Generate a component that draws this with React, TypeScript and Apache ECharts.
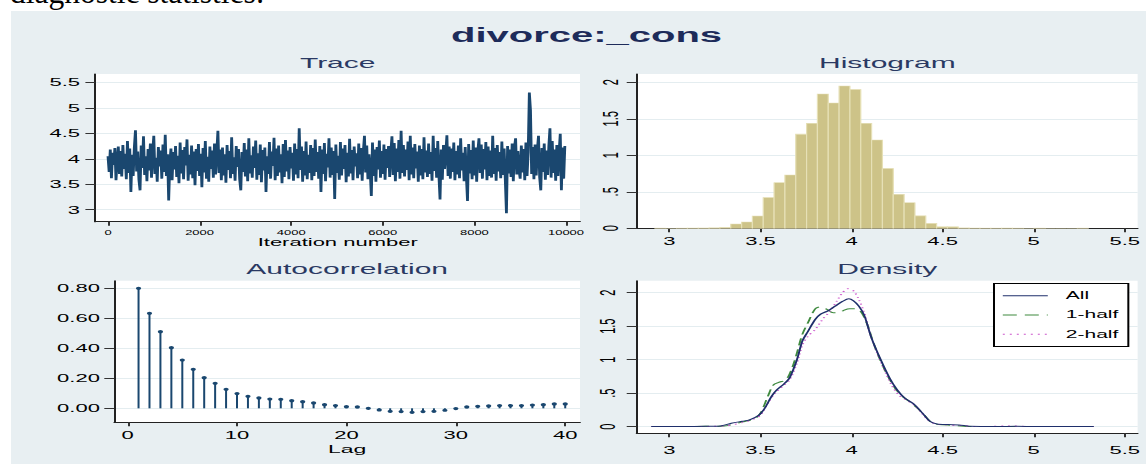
import React, { useEffect, useRef } from "react";
import * as echarts from "echarts";

// The reference picture is stretched horizontally; the chart is drawn at half width and scaled.
const SX = 2;
const PAGE_W = 1146;
const PAGE_H = 464;
const CHART_W = PAGE_W / SX;
const FONT = "'Liberation Sans', Arial, Helvetica, sans-serif";

// ---------------- texts ----------------
const pageCaption = "diagnostic statistics:";
const mainTitle = "divorce:_cons";
const panelTitles = ["Trace", "Histogram", "Autocorrelation", "Density"];
const traceXName = "Iteration number";
const acXName = "Lag";
const legendNames = ["All", "1-half", "2-half"];

// ---------------- trace ----------------
const traceStep = 25; // iterations between stored draws
const traceValues = [
  4.05, 3.74, 4.18, 3.62, 4.12, 3.88, 4.21, 3.58, 3.97, 4.24, 3.70, 4.15, 3.65, 4.27, 3.80, 4.10, 3.60, 4.35, 3.72, 4.20,
  3.35, 4.08, 3.66, 4.22, 4.56, 3.75, 4.14, 3.59, 3.38, 4.26, 3.82, 4.44, 3.68, 4.05, 3.56, 4.19, 3.77, 4.30, 3.63, 4.11,
  4.45, 3.70, 4.02, 3.55, 4.23, 3.85, 4.16, 3.61, 4.28, 3.74, 4.47, 3.66, 4.09, 3.18, 3.92, 4.20, 3.58, 4.13, 3.79, 4.25,
  3.64, 4.06, 3.52, 4.32, 3.71, 4.17, 3.60, 4.23, 3.87, 4.38, 3.57, 4.08, 3.69, 4.26, 3.62, 4.14, 3.48, 4.19, 3.76, 4.29,
  3.66, 4.10, 3.44, 4.21, 3.73, 4.35, 3.61, 4.04, 3.55, 4.24, 3.80, 4.16, 3.63, 4.30, 3.69, 4.12, 4.55, 3.72, 4.18, 3.58,
  4.22, 3.67, 4.09, 3.53, 4.27, 3.78, 4.15, 3.62, 4.42, 3.70, 4.03, 3.57, 4.25, 3.84, 4.19, 3.60, 3.38, 4.13, 3.74, 4.31,
  3.65, 4.18, 3.56, 4.40, 3.71, 4.07, 3.63, 4.24, 3.82, 4.36, 3.59, 4.11, 3.68, 4.28, 3.54, 4.17, 3.77, 4.22, 3.35, 4.05,
  3.70, 4.33, 3.61, 4.14, 3.86, 4.41, 3.58, 4.20, 3.66, 4.26, 3.73, 4.09, 3.52, 4.29, 3.64, 4.37, 3.75, 4.16, 3.60, 4.23,
  3.81, 4.12, 3.57, 4.30, 3.69, 4.19, 3.62, 4.60, 3.78, 4.24, 3.55, 4.15, 3.67, 4.34, 3.60, 4.08, 3.72, 4.27, 3.58, 4.21,
  3.66, 4.38, 3.74, 4.13, 3.61, 4.25, 3.35, 4.18, 3.70, 4.31, 3.56, 4.10, 3.83, 4.40, 3.63, 4.22, 3.68, 4.15, 3.21, 4.28,
  3.72, 4.06, 3.59, 4.33, 3.67, 4.20, 3.80, 4.27, 3.54, 4.12, 3.65, 4.39, 3.71, 4.17, 3.58, 4.24, 3.85, 4.11, 3.62, 4.30,
  3.69, 4.21, 3.57, 4.14, 4.45, 3.73, 4.26, 3.60, 4.09, 3.76, 3.27, 4.32, 3.66, 4.18, 3.55, 4.23, 3.79, 4.36, 3.63, 4.15,
  3.70, 4.28, 3.59, 4.19, 3.82, 4.25, 3.64, 4.12, 4.44, 3.68, 4.31, 3.56, 4.20, 3.74, 4.37, 3.61, 4.55, 3.72, 4.27, 3.65,
  4.18, 3.78, 4.34, 3.58, 4.45, 3.69, 4.22, 3.62, 4.29, 3.81, 4.14, 3.55, 4.26, 3.67, 4.19, 3.60, 4.42, 3.73, 4.16, 3.64,
  4.30, 3.70, 4.13, 3.57, 4.45, 3.76, 4.21, 3.63, 4.35, 3.68, 3.20, 4.18, 3.59, 4.27, 3.80, 4.11, 4.46, 3.66, 4.24, 3.61,
  4.20, 3.74, 4.32, 3.58, 4.15, 3.69, 4.26, 3.62, 4.40, 3.77, 4.12, 3.56, 4.23, 3.65, 3.17, 4.29, 3.71, 4.17, 3.60, 4.36,
  3.67, 4.22, 3.55, 4.14, 4.40, 3.72, 4.28, 3.61, 4.19, 3.79, 4.33, 3.58, 4.24, 3.66, 4.16, 3.63, 4.45, 3.70, 4.21, 3.57,
  4.27, 3.75, 4.13, 3.62, 4.34, 3.68, 4.20, 3.59, 2.93, 4.25, 3.71, 4.18, 3.64, 4.30, 3.56, 4.22, 4.40, 3.69, 4.15, 3.78,
  3.61, 4.26, 3.73, 4.19, 3.58, 4.32, 3.66, 4.14, 5.30, 4.95, 3.70, 4.23, 3.60, 4.28, 3.67, 4.17, 4.45, 3.64, 3.38, 4.21,
  3.74, 4.30, 3.59, 4.16, 3.68, 4.24, 4.60, 3.63, 4.35, 3.72, 4.18, 3.57, 4.27, 3.66, 4.13, 4.49, 3.38, 4.22, 3.61, 4.25,
];
const traceXTicks = [0, 2000, 4000, 6000, 8000, 10000];
const traceXLabels = ["0", "2000", "4000", "6000", "8000", "10000"];
const traceYTicks = [3, 3.5, 4, 4.5, 5, 5.5];
const traceYLabels = ["3", "3.5", "4", "4.5", "5", "5.5"];

// ---------------- histogram ----------------
const histStart = 2.92;
const histBinWidth = 0.0595;
const histHeights = [
  0.002, 0, 0.002, 0.003, 0.004, 0.006, 0.012, 0.059, 0.086, 0.168,
  0.42, 0.625, 0.73, 1.29, 1.44, 1.84, 1.716, 1.95, 1.9, 1.44,
  1.21, 0.82, 0.466, 0.35, 0.17, 0.068, 0.02, 0.02, 0.005, 0.003,
  0.002, 0.002, 0.003, 0.002, 0, 0.002, 0, 0, 0, 0.002,
];
const histXTicks = [3, 3.5, 4, 4.5, 5, 5.5];
const histXLabels = ["3", "3.5", "4", "4.5", "5", "5.5"];
const histYTicks = [0, 0.5, 1, 1.5, 2];
const histYLabels = ["0", ".5", "1", "1.5", "2"];

// ---------------- autocorrelation ----------------
const acLags = [
  1, 2, 3, 4, 5, 6, 7, 8, 9, 10, 11, 12, 13, 14, 15, 16, 17, 18, 19, 20,
  21, 22, 23, 24, 25, 26, 27, 28, 29, 30, 31, 32, 33, 34, 35, 36, 37, 38, 39, 40,
];
const acValues = [
  0.8, 0.633, 0.511, 0.404, 0.322, 0.26, 0.204, 0.167, 0.127, 0.098,
  0.08, 0.069, 0.062, 0.06, 0.051, 0.044, 0.036, 0.024, 0.018, 0.011,
  0.009, 0.0, -0.011, -0.02, -0.022, -0.027, -0.022, -0.02, -0.013, -0.002,
  0.009, 0.013, 0.016, 0.018, 0.018, 0.018, 0.022, 0.024, 0.029, 0.029,
];
const acXTicks = [0, 10, 20, 30, 40];
const acXLabels = ["0", "10", "20", "30", "40"];
const acYTicks = [0, 0.2, 0.4, 0.6, 0.8];
const acYLabels = ["0.00", "0.20", "0.40", "0.60", "0.80"];

// ---------------- density ----------------
const densAll = [
  [2.9, 0], [3.0, 0], [3.1, 0.002], [3.2, 0.004], [3.28, 0.01], [3.34, 0.05], [3.4, 0.08], [3.44, 0.1],
  [3.49, 0.17], [3.52, 0.26], [3.56, 0.45], [3.59, 0.55], [3.63, 0.64], [3.66, 0.73], [3.7, 1.0], [3.73, 1.28],
  [3.76, 1.42], [3.8, 1.6], [3.83, 1.68], [3.87, 1.73], [3.91, 1.8], [3.95, 1.87], [3.985, 1.91], [4.01, 1.88],
  [4.04, 1.8], [4.07, 1.66], [4.11, 1.32], [4.16, 1.0], [4.21, 0.72], [4.25, 0.55], [4.29, 0.43], [4.34, 0.34],
  [4.39, 0.2], [4.43, 0.08], [4.47, 0.04], [4.53, 0.03], [4.59, 0.025], [4.65, 0.005], [4.8, 0.002], [4.9, 0.004],
  [5.0, 0.002], [5.15, 0], [5.33, 0],
];
const densHalf1 = [
  [2.9, 0], [3.1, 0], [3.2, 0.005], [3.3, 0.01], [3.4, 0.07], [3.47, 0.12], [3.5, 0.2], [3.54, 0.45],
  [3.57, 0.62], [3.6, 0.66], [3.64, 0.7], [3.67, 0.85], [3.7, 1.1], [3.73, 1.38], [3.76, 1.55], [3.8, 1.76],
  [3.83, 1.79], [3.86, 1.76], [3.9, 1.7], [3.93, 1.7], [3.96, 1.74], [3.99, 1.76], [4.03, 1.76], [4.06, 1.68],
  [4.09, 1.5], [4.12, 1.25], [4.16, 0.98], [4.2, 0.75], [4.24, 0.57], [4.28, 0.45], [4.32, 0.37], [4.36, 0.28],
  [4.4, 0.17], [4.44, 0.06], [4.48, 0.03], [4.55, 0.02], [4.6, 0.01], [4.65, 0], [4.8, 0], [5.0, 0], [5.33, 0],
];
const densHalf2 = [
  [2.9, 0], [3.1, 0], [3.3, 0.01], [3.4, 0.06], [3.47, 0.12], [3.5, 0.17], [3.54, 0.35], [3.58, 0.5],
  [3.62, 0.6], [3.66, 0.7], [3.7, 0.95], [3.73, 1.22], [3.76, 1.35], [3.8, 1.45], [3.84, 1.6], [3.88, 1.72],
  [3.92, 1.88], [3.95, 2.0], [3.98, 2.06], [4.01, 2.03], [4.04, 1.9], [4.07, 1.7], [4.1, 1.4], [4.14, 1.1],
  [4.18, 0.85], [4.22, 0.62], [4.26, 0.47], [4.3, 0.4], [4.34, 0.33], [4.38, 0.22], [4.42, 0.1], [4.46, 0.04],
  [4.5, 0.03], [4.6, 0.015], [4.7, 0], [4.85, 0.01], [5.0, 0], [5.33, 0],
];
const densYTicks = [0, 0.5, 1, 1.5, 2];
const densYLabels = ["0", ".5", "1", "1.5", "2"];

// ---------------- layout (screen px of the reference) ----------------
const sx = (v: number) => v / SX;
const NAVY = "#1a476f";
const axisLineStyle = { color: "#222", width: 1 };
const tickStyle = { color: "#333", width: 1 };
const gridLineStyle = { color: "#e4edf0", width: 1 };

function labelFor(ticks: number[], labels: string[]) {
  return (v: number) => {
    const i = ticks.findIndex((t) => Math.abs(t - v) < 1e-9);
    return i >= 0 ? labels[i] : "";
  };
}

function xAxis(gridIndex: number, min: number, max: number, ticks: number[], labels: string[], fontSize: number, margin: number, extra: any = {}) {
  return {
    type: "value",
    gridIndex,
    min,
    max,
    axisLine: { show: true, onZero: false, lineStyle: axisLineStyle },
    axisTick: { show: true, length: 4, lineStyle: tickStyle, customValues: ticks },
    axisLabel: { show: true, customValues: ticks, fontSize, margin, color: "#000", fontFamily: FONT, formatter: labelFor(ticks, labels) },
    splitLine: { show: false },
    ...extra,
  };
}

function yAxis(gridIndex: number, min: number, max: number, ticks: number[], labels: string[], fontSize: number, margin: number, rotate = 0) {
  return {
    type: "value",
    gridIndex,
    min,
    max,
    axisLine: { show: true, onZero: false, lineStyle: axisLineStyle },
    axisTick: { show: true, length: 5, lineStyle: tickStyle, customValues: ticks },
    axisLabel: { show: true, customValues: ticks, fontSize, margin, rotate, color: "#000", fontFamily: FONT, formatter: labelFor(ticks, labels) },
    splitLine: { show: true, lineStyle: gridLineStyle },
  };
}

function buildOption() {
  const gridBase = { show: true, backgroundColor: "#ffffff", borderWidth: 0, containLabel: false };
  const grids = [
    { ...gridBase, left: sx(95.4), top: 74, width: sx(580 - 95.4), height: 221.7 - 74 },
    { ...gridBase, left: sx(636.7), top: 74, width: sx(1138 - 636.7), height: 228.3 - 74 },
    { ...gridBase, left: sx(114.3), top: 280.7, width: sx(580 - 114.3), height: 422.3 - 280.7 },
    { ...gridBase, left: sx(636.7), top: 280.7, width: sx(1138 - 636.7), height: 433.3 - 280.7 },
  ];

  const titleStyle = (text: string, x: number, y: number, size: number, weight: string, color: string) => ({
    type: "text",
    x: sx(x),
    y,
    silent: true,
    style: {
      text,
      fill: color,
      fontSize: size,
      fontWeight: weight,
      fontFamily: FONT,
      align: "center",
      verticalAlign: "middle",
      textAlign: "center",
      textVerticalAlign: "middle",
    },
  });

  return {
    animation: false,
    backgroundColor: "transparent",
    grid: grids,
    graphic: {
      elements: [
        titleStyle(mainTitle, 586.5, 34.7, 20, "bold", "#1d2b5a"),
        titleStyle(panelTitles[0], 337.7, 62.8, 15, "normal", "#2a3963"),
        titleStyle(panelTitles[1], 887.3, 62.8, 15, "normal", "#2a3963"),
        titleStyle(panelTitles[2], 347.2, 269, 15, "normal", "#2a3963"),
        titleStyle(panelTitles[3], 887.3, 269, 15, "normal", "#2a3963"),
      ],
    },
    legend: {
      data: legendNames,
      orient: "vertical",
      left: sx(994),
      top: 283.5,
      itemWidth: 22.5,
      itemHeight: 10,
      itemGap: 8.3,
      padding: [6.7, 5, 6.7, 3.9],
      borderColor: "#000",
      borderWidth: 1,
      borderRadius: 0,
      backgroundColor: "#ffffff",
      selectedMode: false,
      itemStyle: { opacity: 0, borderWidth: 0 },
      lineStyle: { width: 1, inactiveWidth: 1 },
      textStyle: { fontSize: 10.5, color: "#000", fontFamily: FONT, padding: [0, 0, 0, 4] },
    },
    xAxis: [
      xAxis(0, -275, 10306, traceXTicks, traceXLabels, 6.5, 7.5, {
        name: traceXName,
        nameLocation: "middle",
        nameGap: 15.5,
        nameTextStyle: { fontSize: 11, color: "#000", fontFamily: FONT },
      }),
      xAxis(1, 2.82, 5.571, histXTicks, histXLabels, 11, 7),
      xAxis(2, -1.216, 41.35, acXTicks, acXLabels, 11, 7, {
        name: acXName,
        nameLocation: "middle",
        nameGap: 20.5,
        nameTextStyle: { fontSize: 11.5, color: "#000", fontFamily: FONT },
      }),
      xAxis(3, 2.82, 5.571, histXTicks, histXLabels, 11, 11),
    ],
    yAxis: [
      yAxis(0, 2.765, 5.663, traceYTicks, traceYLabels, 11, 7.7),
      yAxis(1, 0, 2.114, histYTicks, histYLabels, 11, 7.5, 90),
      yAxis(2, -0.0933, 0.8507, acYTicks, acYLabels, 11, 7.2),
      yAxis(3, -0.1, 2.18, densYTicks, densYLabels, 11, 9, 90),
    ],
    series: [
      {
        name: "trace",
        type: "line",
        xAxisIndex: 0,
        yAxisIndex: 0,
        data: traceValues.map((v, i) => [i * traceStep, v]),
        symbol: "none",
        showSymbol: false,
        silent: true,
        lineStyle: { color: NAVY, width: 1.4 },
      },
      {
        name: "histogram",
        type: "custom",
        xAxisIndex: 1,
        yAxisIndex: 1,
        silent: true,
        data: histHeights.map((h, k) => [histStart + k * histBinWidth, histStart + (k + 1) * histBinWidth, h]),
        encode: { x: [0, 1], y: 2 },
        renderItem: (_params: any, api: any) => {
          const p0 = api.coord([api.value(0), api.value(2)]);
          const p1 = api.coord([api.value(1), 0]);
          return {
            type: "rect",
            shape: { x: p0[0], y: p0[1], width: p1[0] - p0[0], height: p1[1] - p0[1] },
            style: { fill: "#cdc388", stroke: "#e6e0b6", lineWidth: 0.6 },
          };
        },
      },
      {
        name: "autocorrelation",
        type: "custom",
        xAxisIndex: 2,
        yAxisIndex: 2,
        silent: true,
        data: acLags.map((l, i) => [l, acValues[i]]),
        encode: { x: 0, y: 1 },
        renderItem: (_params: any, api: any) => {
          const top = api.coord([api.value(0), api.value(1)]);
          const base = api.coord([api.value(0), 0]);
          return {
            type: "group",
            children: [
              { type: "line", shape: { x1: base[0], y1: base[1], x2: top[0], y2: top[1] }, style: { stroke: NAVY, lineWidth: 1 } },
              { type: "ellipse", shape: { cx: top[0], cy: top[1], rx: 1.3, ry: 1.6 }, style: { fill: NAVY } },
            ],
          };
        },
      },
      {
        name: legendNames[0],
        type: "line",
        xAxisIndex: 3,
        yAxisIndex: 3,
        data: densAll,
        symbol: "none",
        showSymbol: false,
        smooth: 0.3,
        silent: true,
        z: 4,
        lineStyle: { color: "#1f2f6b", width: 1, type: "solid" },
        itemStyle: { color: "#1f2f6b" },
      },
      {
        name: legendNames[1],
        type: "line",
        xAxisIndex: 3,
        yAxisIndex: 3,
        data: densHalf1,
        symbol: "none",
        showSymbol: false,
        smooth: 0.3,
        silent: true,
        z: 3,
        lineStyle: { color: "#3f8a3f", width: 1, type: [7, 4] },
        itemStyle: { color: "#3f8a3f" },
      },
      {
        name: legendNames[2],
        type: "line",
        xAxisIndex: 3,
        yAxisIndex: 3,
        data: densHalf2,
        symbol: "none",
        showSymbol: false,
        smooth: 0.3,
        silent: true,
        z: 3,
        lineStyle: { color: "#cc55cc", width: 1, type: [1, 2.5] },
        itemStyle: { color: "#cc55cc" },
      },
    ],
  };
}

export default function App() {
  const ref = useRef<HTMLDivElement>(null);
  useEffect(() => {
    if (!ref.current) return;
    const chart = echarts.init(ref.current, undefined, { renderer: "svg", width: CHART_W, height: PAGE_H });
    chart.setOption(buildOption() as any);
    return () => chart.dispose();
  }, []);

  return (
    <div style={{ position: "fixed", left: 0, top: 0, width: PAGE_W, height: PAGE_H, overflow: "hidden", background: "#ffffff" }}>
      <div
        style={{
          position: "absolute",
          left: 10,
          top: -23,
          fontFamily: "'Liberation Serif', 'Times New Roman', serif",
          fontSize: 31.5,
          lineHeight: "31.5px",
          color: "#000",
          whiteSpace: "nowrap",
        }}
      >
        {pageCaption}
      </div>
      <div style={{ position: "absolute", left: 11, top: 11, width: PAGE_W - 11, height: PAGE_H - 11, background: "#e8eff2" }} />
      <div
        ref={ref}
        style={{
          position: "absolute",
          left: 0,
          top: 0,
          width: CHART_W,
          height: PAGE_H,
          transform: `scaleX(${SX})`,
          transformOrigin: "0 0",
        }}
      />
    </div>
  );
}
